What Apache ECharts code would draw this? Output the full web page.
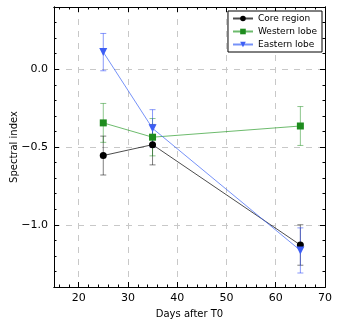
<!DOCTYPE html>
<html>
<head>
  <meta charset="utf-8">
  <title>Spectral index</title>
  <script src="https://cdn.jsdelivr.net/npm/echarts@6/dist/echarts.min.js"></script>
  <style>
    body { margin: 0; background: #fff; }
  </style>
</head>
<body>
  <div id="main" style="width: 340px;height:325px;"></div>
  <script type="text/javascript">
    // data
    var days = [25, 35, 65];
    var core = [-0.555, -0.485, -1.13];
    var coreErr = [0.125, 0.13, 0.13];
    var western = [-0.345, -0.437, -0.365];
    var westernErr = [0.125, 0.12, 0.125];
    var eastern = [0.11, -0.38, -1.165];
    var easternErr = [0.12, 0.12, 0.145];

    var xMajor = [20, 30, 40, 50, 60, 70];
    var xMinor = [16, 18, 22, 24, 26, 28, 32, 34, 36, 38, 42, 44, 46, 48, 52, 54, 56, 58, 62, 64, 66, 68];
    var yMajor = [-1.0, -0.5, 0.0];
    var yMinor = [-1.4, -1.3, -1.2, -1.1, -0.9, -0.8, -0.7, -0.6, -0.4, -0.3, -0.2, -0.1, 0.1, 0.2, 0.3];

    var font = 'DejaVu Sans';
    var myChart = echarts.init(document.getElementById('main'));

    function fmt(v) {
      return v.toFixed(1).replace('-', '\u2212');
    }

    // one axis per tick set, ticks drawn inward like the original
    function xAx(pos, ticks, len, main) {
      return {
        type: 'value', position: pos, min: 15, max: 70, gridIndex: 0,
        name: main ? 'Days after T0' : '',
        nameLocation: 'middle', nameGap: 22, nameMoveOverlap: false,
        nameTextStyle: { fontFamily: font, fontSize: 10, color: '#000' },
        axisLine: { show: true, onZero: false, lineStyle: { color: '#000', width: 1 } },
        axisTick: { show: true, inside: true, length: len, customValues: ticks, lineStyle: { color: '#000' } },
        axisLabel: main ? { show: true, customValues: xMajor, margin: 6, fontFamily: font, fontSize: 11, color: '#000' } : { show: false },
        splitLine: main ? { show: true, lineStyle: { color: '#c8c8c8', type: [6, 6], width: 1 } } : { show: false }
      };
    }
    function yAx(pos, ticks, len, main) {
      return {
        type: 'value', position: pos, min: -1.4, max: 0.4, gridIndex: 0,
        name: main ? 'Spectral index' : '',
        nameLocation: 'middle', nameGap: 35, nameMoveOverlap: false,
        nameTextStyle: { fontFamily: font, fontSize: 10, color: '#000' },
        axisLine: { show: true, onZero: false, lineStyle: { color: '#000', width: 1 } },
        axisTick: { show: true, inside: true, length: len, customValues: ticks, lineStyle: { color: '#000' } },
        axisLabel: main ? { show: true, customValues: yMajor, margin: 6, fontFamily: font, fontSize: 11, color: '#000', formatter: fmt } : { show: false },
        splitLine: main ? { show: true, lineStyle: { color: '#c8c8c8', type: [6, 6], width: 1 } } : { show: false }
      };
    }

    function errSeries(name, vals, errs, color) {
      var d = [];
      for (var i = 0; i < days.length; i++) {
        d.push([days[i], vals[i] - errs[i], vals[i] + errs[i]]);
      }
      return {
        type: 'custom', name: name + ' err', silent: true, z: 1,
        xAxisIndex: 0, yAxisIndex: 0,
        data: d,
        renderItem: function (params, api) {
          var lo = api.coord([api.value(0), api.value(1)]);
          var hi = api.coord([api.value(0), api.value(2)]);
          var w = 3;
          var st = { stroke: color, lineWidth: 1 };
          return {
            type: 'group',
            children: [
              { type: 'line', shape: { x1: lo[0], y1: lo[1], x2: hi[0], y2: hi[1] }, style: st },
              { type: 'line', shape: { x1: lo[0] - w, y1: lo[1], x2: lo[0] + w, y2: lo[1] }, style: st },
              { type: 'line', shape: { x1: hi[0] - w, y1: hi[1], x2: hi[0] + w, y2: hi[1] }, style: st }
            ]
          };
        }
      };
    }

    function pairs(vals) {
      return days.map(function (d, i) { return [d, vals[i]]; });
    }

    var option = {
      animation: false,
      grid: { left: 54, right: 15, top: 7, bottom: 38, outerBoundsMode: 'none', containLabel: false },
      legend: {
        right: 18, top: 11,
        orient: 'vertical',
        itemWidth: 20, itemHeight: 7, itemGap: 4,
        padding: [3, 5, 3, 4],
        borderColor: '#000', borderWidth: 1, borderRadius: 0,
        backgroundColor: '#fff',
        textStyle: { fontFamily: font, fontSize: 9, color: '#000' },
        data: ['Core region', 'Western lobe', 'Eastern lobe']
      },
      xAxis: [
        xAx('bottom', xMajor, 5, true),
        xAx('bottom', xMinor, 2.5, false),
        xAx('top', xMajor, 5, false),
        xAx('top', xMinor, 2.5, false)
      ],
      yAxis: [
        yAx('left', yMajor, 5, true),
        yAx('left', yMinor, 2.5, false),
        yAx('right', yMajor, 5, false),
        yAx('right', yMinor, 2.5, false)
      ],
      series: [
        errSeries('Core region', core, coreErr, 'rgba(0,0,0,0.5)'),
        errSeries('Western lobe', western, westernErr, 'rgba(0,128,0,0.45)'),
        errSeries('Eastern lobe', eastern, easternErr, 'rgba(40,70,245,0.55)'),
        {
          name: 'Core region', type: 'line', z: 3,
          data: pairs(core),
          symbol: 'circle', symbolSize: 7,
          itemStyle: { color: '#000' },
          lineStyle: { color: 'rgba(0,0,0,0.7)', width: 1 }
        },
        {
          name: 'Western lobe', type: 'line', z: 3,
          data: pairs(western),
          symbol: 'rect', symbolSize: 7,
          itemStyle: { color: '#1e8c1e' },
          lineStyle: { color: 'rgba(30,150,30,0.65)', width: 1 }
        },
        {
          name: 'Eastern lobe', type: 'line', z: 3,
          data: pairs(eastern),
          symbol: 'triangle', symbolSize: 8, symbolRotate: 180,
          itemStyle: { color: '#3d5ef5' },
          lineStyle: { color: 'rgba(60,100,245,0.7)', width: 1 }
        }
      ]
    };

    myChart.setOption(option);
  </script>
</body>
</html>
